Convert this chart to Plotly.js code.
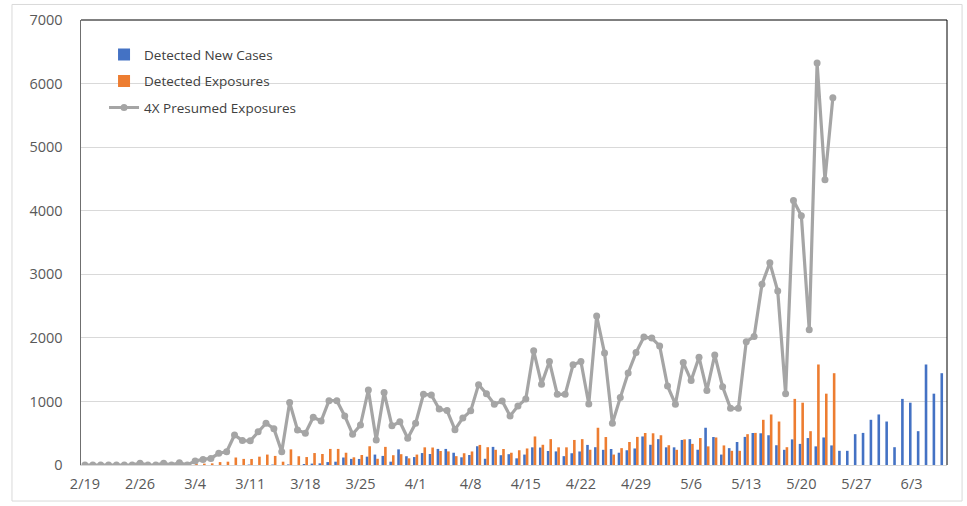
<!DOCTYPE html>
<html>
<head>
<meta charset="utf-8">
<script src="https://cdn.plot.ly/plotly-3.0.1.min.js"></script>
<style>
  html, body { margin: 0; padding: 0; background: #ffffff; }
  #chart { width: 967px; height: 506px; }
</style>
</head>
<body>
<div id="chart"></div>
<script>
// Daily categories, 2/19 through 6/7
const dates = [
  "2/19","2/20","2/21","2/22","2/23","2/24","2/25","2/26","2/27","2/28","2/29",
  "3/1","3/2","3/3","3/4","3/5","3/6","3/7","3/8","3/9","3/10","3/11","3/12","3/13","3/14","3/15",
  "3/16","3/17","3/18","3/19","3/20","3/21","3/22","3/23","3/24","3/25","3/26","3/27","3/28","3/29","3/30","3/31",
  "4/1","4/2","4/3","4/4","4/5","4/6","4/7","4/8","4/9","4/10","4/11","4/12","4/13","4/14","4/15",
  "4/16","4/17","4/18","4/19","4/20","4/21","4/22","4/23","4/24","4/25","4/26","4/27","4/28","4/29","4/30",
  "5/1","5/2","5/3","5/4","5/5","5/6","5/7","5/8","5/9","5/10","5/11","5/12","5/13","5/14","5/15",
  "5/16","5/17","5/18","5/19","5/20","5/21","5/22","5/23","5/24","5/25","5/26","5/27","5/28","5/29","5/30","5/31",
  "6/1","6/2","6/3","6/4","6/5","6/6","6/7"
];

// Weekly axis labels
const tickLabels = ["2/19","2/26","3/4","3/11","3/18","3/25","4/1","4/8","4/15","4/22","4/29","5/6","5/13","5/20","5/27","6/3"];

// Detected new cases per day (2/19 .. 6/7)
const newCases = [
  0,0,0,0,0,0,0,0,0,0,0,0,0,0,
  0,0,0,0,0,0,0,7,0,0,7,0,9,0,16,22,26,46,52,118,96,95,131,164,143,52,
  246,138,125,188,173,253,253,193,121,157,295,98,285,154,170,105,164,278,275,220,
  214,139,185,213,316,280,239,252,193,232,260,449,318,407,278,278,394,407,240,586,
  440,164,265,362,442,503,499,468,311,239,403,332,424,293,433,308,223,223,485,505,
  711,795,684,280,1040,980,532,1581,1122,1444
];

// Detected exposures per day (2/19 .. 5/24)
const exposures = [
  0,0,0,0,0,0,0,7,0,0,7,0,9,0,16,22,26,46,52,118,96,95,131,164,143,52,
  246,138,125,188,173,253,253,193,121,157,295,98,285,154,170,105,164,278,275,220,
  214,139,185,213,316,280,239,252,193,232,260,449,318,407,278,278,394,407,240,586,
  440,164,265,362,442,503,499,468,311,239,403,332,424,293,433,308,223,223,485,505,
  711,795,684,280,1040,980,532,1581,1122,1444
];

// Presumed exposures (4x detected) per day (2/19 .. 5/24)
const presumed = [
  0,0,0,0,0,0,0,28,0,0,28,0,36,0,64,88,104,184,208,472,384,380,524,656,572,208,
  984,552,500,752,692,1012,1012,772,484,628,1180,392,1140,616,680,420,656,1112,1100,880,
  856,556,740,852,1264,1120,956,1008,772,928,1040,1796,1272,1628,1112,1112,1576,1628,960,2344,
  1760,656,1060,1448,1768,2012,1996,1872,1244,956,1612,1328,1696,1172,1732,1232,892,892,1940,2020,
  2844,3180,2736,1120,4160,3920,2128,6324,4488,5776
];

const FONT = "Open Sans, Liberation Sans, sans-serif";
const BLUE = "#4472C4", ORANGE = "#ED7D31", GREY = "#A5A5A5";

const traces = [
  {
    type: "bar", name: "Detected New Cases", legendgroup: "cases",
    x: dates, y: newCases, marker: { color: BLUE }
  },
  {
    type: "bar", name: "Detected Exposures", legendgroup: "exposures",
    x: dates.slice(0, exposures.length), y: exposures, marker: { color: ORANGE }
  },
  {
    type: "scatter", mode: "lines+markers", name: "4X Presumed Exposures", legendgroup: "presumed",
    x: dates.slice(0, presumed.length), y: presumed,
    line: { color: GREY, width: 3.2 },
    marker: { color: GREY, size: 7 }
  }
];

// tick marks sit on the day boundary left of each labelled day
const boundaryTicks = tickLabels.map(function (t) { return dates.indexOf(t) - 0.5; });
const xRange = [-0.5, dates.length - 0.5];

const layout = {
  width: 967, height: 506,
  margin: { l: 81, r: 20, t: 20, b: 41, pad: 0 },
  paper_bgcolor: "#ffffff", plot_bgcolor: "#ffffff",
  font: { family: FONT, color: "#595959" },
  barmode: "group", bargap: 0.34, bargroupgap: 0,
  showlegend: true,
  legend: {
    x: 0.0266, y: 0.957, xanchor: "left", yanchor: "top",
    bgcolor: "rgba(0,0,0,0)", borderwidth: 0,
    traceorder: "grouped", tracegroupgap: 6,
    font: { family: FONT, size: 13.5, color: "#404040" }
  },
  xaxis: {
    type: "category", range: xRange,
    tickmode: "array", tickvals: tickLabels, ticktext: tickLabels,
    ticks: "", showgrid: false, zeroline: false,
    showline: true, linecolor: "#d9d9d9", linewidth: 1,
    ticklabelstandoff: 6,
    tickfont: { family: FONT, size: 14.5, color: "#595959" },
    fixedrange: true
  },
  xaxis2: {
    overlaying: "x", anchor: "y", type: "linear", range: xRange,
    tickmode: "array", tickvals: boundaryTicks,
    ticks: "outside", ticklen: 5, tickwidth: 1, tickcolor: "#d9d9d9",
    showticklabels: false, showgrid: false, zeroline: false, showline: false,
    fixedrange: true
  },
  yaxis: {
    range: [0, 7000], dtick: 1000, tick0: 0,
    showgrid: true, gridcolor: "#d9d9d9", gridwidth: 1,
    zeroline: false, showline: true, linecolor: "#6f6f6f", linewidth: 1.5,
    ticks: "", ticklabelstandoff: 14,
    tickfont: { family: FONT, size: 14.5, color: "#595959" },
    fixedrange: true
  },
  shapes: [
    // plot-area frame: top and right edges
    { type: "line", xref: "paper", yref: "paper", x0: 0, x1: 1, y0: 1, y1: 1,
      line: { color: "#000000", width: 1 }, layer: "above" },
    { type: "line", xref: "paper", yref: "paper", x0: 1, x1: 1, y0: 0, y1: 1,
      line: { color: "#000000", width: 1 }, layer: "above" },
    // outer chart frame
    { type: "rect", xref: "paper", yref: "paper",
      x0: -0.0797, x1: 1.0174, y0: -0.081, y1: 1.0349,
      line: { color: "#d9d9d9", width: 1 }, fillcolor: "rgba(0,0,0,0)", layer: "below" }
  ]
};

Plotly.newPlot("chart", traces, layout, { staticPlot: true, displayModeBar: false });
</script>
</body>
</html>
